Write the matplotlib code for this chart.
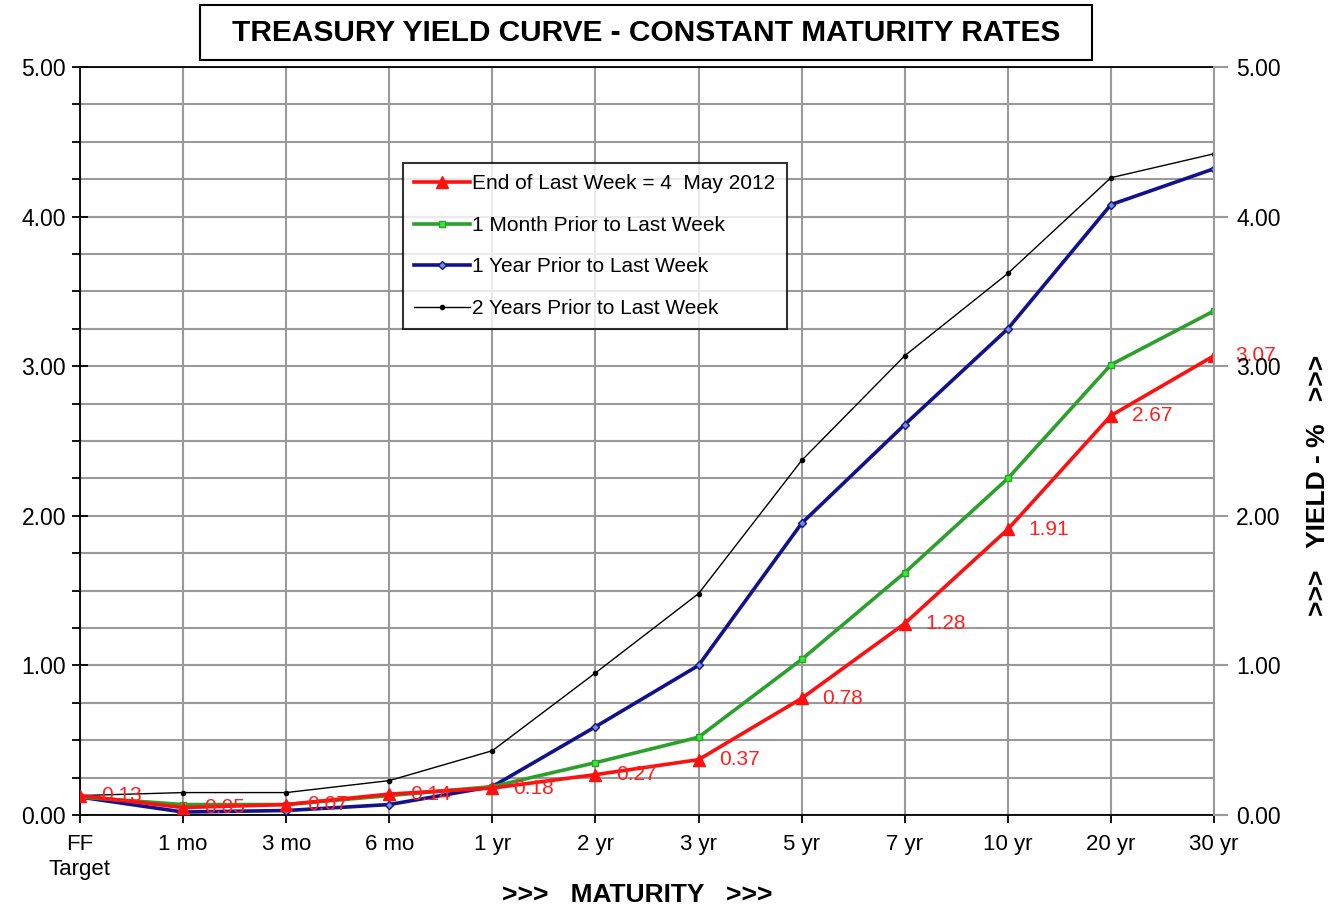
import numpy as np
import matplotlib

matplotlib.use("Agg")
import matplotlib.pyplot as plt
from matplotlib.ticker import MultipleLocator, FormatStrFormatter
from matplotlib.patches import Rectangle

plt.rcParams["font.family"] = ["Liberation Sans", "DejaVu Sans"]

# maturities
maturities = ["FF\nTarget", "1 mo", "3 mo", "6 mo", "1 yr", "2 yr", "3 yr",
              "5 yr", "7 yr", "10 yr", "20 yr", "30 yr"]

# yields (%)
last_week = [0.13, 0.05, 0.07, 0.14, 0.18, 0.27, 0.37, 0.78, 1.28, 1.91, 2.67, 3.07]
month_prior = [0.12, 0.07, 0.07, 0.13, 0.19, 0.35, 0.52, 1.04, 1.62, 2.25, 3.01, 3.37]
year_prior = [0.12, 0.02, 0.03, 0.07, 0.19, 0.59, 1.00, 1.95, 2.61, 3.25, 4.08, 4.32]
two_years_prior = [0.13, 0.15, 0.15, 0.23, 0.43, 0.95, 1.48, 2.37, 3.07, 3.62, 4.26, 4.42]

x = np.arange(len(maturities))
GRID = "#9a9a9a"
W, H = 1331, 908

fig = plt.figure(figsize=(W / 100, H / 100), dpi=100)
ax = fig.add_axes([0.0601, 0.1024, 0.852, 0.8238])

# grid
ax.set_xlim(0, len(maturities) - 1)
ax.set_ylim(0, 5)
ax.yaxis.set_major_locator(MultipleLocator(1.0))
ax.yaxis.set_minor_locator(MultipleLocator(0.25))
ax.set_xticks(x)
ax.grid(True, which="both", color=GRID, linewidth=1.5)
ax.set_axisbelow(True)

ax.plot(x, two_years_prior, color="black", lw=1.0, marker="o", ms=3,
        label="2 Years Prior to Last Week", zorder=3)
ax.plot(x, year_prior, color="#12128c", lw=2.6, marker="D", ms=4,
        mfc="#7090d0", mec="#12128c", label="1 Year Prior to Last Week", zorder=4)
ax.plot(x, month_prior, color="#2ca02c", lw=2.6, marker="s", ms=4,
        mfc="#33ee33", mec="#2ca02c", label="1 Month Prior to Last Week", zorder=5)
ax.plot(x, last_week, color="#ff1010", lw=2.6, marker="^", ms=8,
        label="End of Last Week = 4  May 2012", zorder=6)

# data labels for the latest curve
for xi, yi in zip(x, last_week):
    ax.annotate(f"{yi:.2f}", (xi, yi), xytext=(15, 0), textcoords="offset points",
                color="#ff2020", fontsize=15, va="center", ha="left", zorder=7)

# spines & ticks
for s in ["left", "top", "bottom"]:
    ax.spines[s].set_color("black")
    ax.spines[s].set_linewidth(1.3)
ax.spines["right"].set_visible(False)
ax.yaxis.set_major_formatter(FormatStrFormatter("%.2f"))
ax.tick_params(axis="y", which="major", direction="inout", labelsize=16.5,
               colors="black", length=12, width=1.3, pad=4)
ax.tick_params(axis="y", which="minor", direction="out", length=6, width=1.3)
ax.tick_params(axis="x", direction="out", length=6, width=1.3, labelsize=16, pad=8)
ax.set_xticklabels(maturities)

ax2 = ax.twinx()
ax2.set_ylim(0, 5)
ax2.yaxis.set_major_locator(MultipleLocator(1.0))
ax2.yaxis.set_major_formatter(FormatStrFormatter("%.2f"))
ax2.tick_params(axis="y", direction="out", labelsize=16.5, length=10, width=1.5,
                color=GRID, labelcolor="black", pad=6)
for s in ["top", "left", "bottom"]:
    ax2.spines[s].set_visible(False)
ax2.spines["right"].set_color(GRID)
ax2.spines["right"].set_linewidth(1.5)

# axis titles
fig.text(1318 / W, 1 - 485 / H, ">>>   YIELD - %   >>>", rotation=90,
         ha="center", va="center", fontsize=19, fontweight="bold")
fig.text(637 / W, 1 - 895 / H, ">>>   MATURITY   >>>",
         ha="center", va="center", fontsize=19, fontweight="bold")

# legend
handles, labels = ax.get_legend_handles_labels()
leg = ax.legend(handles[::-1], labels[::-1], loc="upper left",
                bbox_to_anchor=(0.2845, 0.8717), fontsize=15, frameon=True,
                fancybox=False, edgecolor="black", labelspacing=1.08,
                handlelength=2.7, handletextpad=0.1, borderpad=0.55,
                borderaxespad=0)
leg.get_frame().set_linewidth(1.5)
leg.set_zorder(10)

# title box
fig.patches.append(Rectangle((200 / W, 1 - 60 / H), 892 / W, 55 / H,
                             transform=fig.transFigure, fc="white", ec="black",
                             lw=1.5))
fig.text(646 / W, 1 - 33 / H, "TREASURY YIELD CURVE - CONSTANT MATURITY RATES",
         ha="center", va="center", fontsize=21.5, fontweight="bold")

fig.savefig("out.png", dpi=100)
